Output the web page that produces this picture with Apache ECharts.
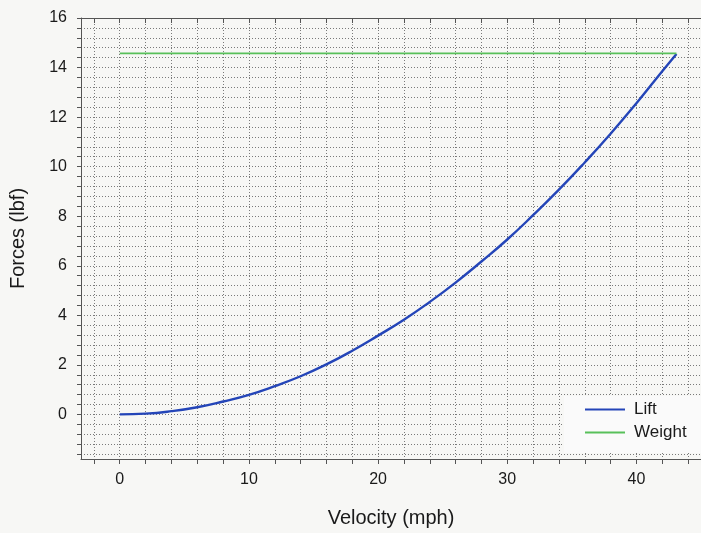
<!DOCTYPE html>
<html>
<head>
<meta charset="utf-8">
<script src="https://cdn.jsdelivr.net/npm/echarts@6/dist/echarts.min.js"></script>
<style>
html,body{margin:0;padding:0;background:#f7f7f5;}
#chart{width:701px;height:533px;}
</style>
</head>
<body>
<div id="chart"></div>
<script>
// Data
var velocity = [0, 2, 4, 6, 8, 10, 12, 14, 16, 18, 20, 22, 24, 26, 28, 30, 32, 34, 36, 38, 40, 42, 43.1];
var lift     = [0.00, 0.03, 0.13, 0.29, 0.52, 0.79, 1.14, 1.54, 2.02, 2.57, 3.18, 3.82, 4.54, 5.32, 6.17, 7.06, 8.04, 9.07, 10.17, 11.33, 12.56, 13.85, 14.55];
var weightV  = [0, 43.1];
var weight   = [14.57, 14.57];

var xTickValues = [-2, 0, 2, 4, 6, 8, 10, 12, 14, 16, 18, 20, 22, 24, 26, 28, 30, 32, 34, 36, 38, 40, 42, 44];
var xLabelValues = [0, 10, 20, 30, 40];
var yTickValues = [-1.6, -1.2, -0.8, -0.4, 0, 0.4, 0.8, 1.2, 1.6, 2, 2.4, 2.8, 3.2, 3.6, 4, 4.4, 4.8, 5.2, 5.6, 6, 6.4, 6.8, 7.2, 7.6, 8, 8.4, 8.8, 9.2, 9.6, 10, 10.4, 10.8, 11.2, 11.6, 12, 12.4, 12.8, 13.2, 13.6, 14, 14.4, 14.8, 15.2, 15.6, 16];
var yLabelValues = [0, 2, 4, 6, 8, 10, 12, 14, 16];

function pairs(xs, ys){ var out=[]; for (var i=0;i<xs.length;i++) out.push([xs[i], ys[i]]); return out; }

var chart = echarts.init(document.getElementById('chart'), null, {renderer:'canvas'});
var font = 'Liberation Sans, Arial, sans-serif';
var gridStyle = {color:'#7a7a7a', width:1, type:[1,2]};

chart.setOption({
  backgroundColor:'#f7f7f5',
  animation:false,
  grid:{left:80, top:18, right:-3, bottom:74, containLabel:false},
  legend:{
    orient:'vertical', left:564, top:396,
    backgroundColor:'#fafafa',
    padding:[5,40,12,21],
    itemWidth:40, itemHeight:2, itemGap:6, icon:'rect',
    textStyle:{fontFamily:font, fontSize:17, color:'#1a1a1a', padding:[0,0,0,4]},
    data:['Lift','Weight']
  },
  xAxis:[{
    type:'value', min:-3, max:45, position:'bottom',
    name:'Velocity (mph)', nameLocation:'middle', nameGap:49,
    nameTextStyle:{fontFamily:font, fontSize:20, color:'#1a1a1a'},
    axisLine:{show:true, onZero:false, lineStyle:{color:'#555', width:1}},
    axisTick:{show:true, inside:false, length:5, customValues:xTickValues, lineStyle:{color:'#555'}},
    axisLabel:{show:true, margin:13, customValues:xLabelValues, fontFamily:font, fontSize:16, color:'#1a1a1a'},
    splitLine:{show:true, lineStyle:gridStyle}
  },{
    type:'value', min:-3, max:45, position:'top',
    axisLine:{show:true, onZero:false, lineStyle:{color:'#555', width:1}},
    axisTick:{show:true, inside:true, length:5, customValues:xTickValues, lineStyle:{color:'#555'}},
    axisLabel:{show:false},
    splitLine:{show:false}
  }],
  yAxis:[{
    type:'value', min:-1.8, max:16, position:'left',
    name:'Forces (lbf)', nameLocation:'middle', nameGap:53,
    nameTextStyle:{fontFamily:font, fontSize:20, color:'#1a1a1a'},
    axisLine:{show:true, onZero:false, lineStyle:{color:'#555', width:1}},
    axisTick:{show:true, inside:false, length:4, customValues:yTickValues, lineStyle:{color:'#555'}},
    axisLabel:{show:true, margin:14, customValues:yLabelValues, fontFamily:font, fontSize:16, color:'#1a1a1a'},
    splitLine:{show:true, lineStyle:gridStyle}
  }],
  series:[{
    name:'Lift', type:'line', smooth:true, showSymbol:false,
    data:pairs(velocity, lift),
    lineStyle:{color:'#2445b8', width:2.4},
    itemStyle:{color:'#2445b8'}
  },{
    name:'Weight', type:'line', showSymbol:false,
    data:pairs(weightV, weight),
    lineStyle:{color:'#58c05a', width:1.8},
    itemStyle:{color:'#58c05a'}
  }]
});
</script>
</body>
</html>
